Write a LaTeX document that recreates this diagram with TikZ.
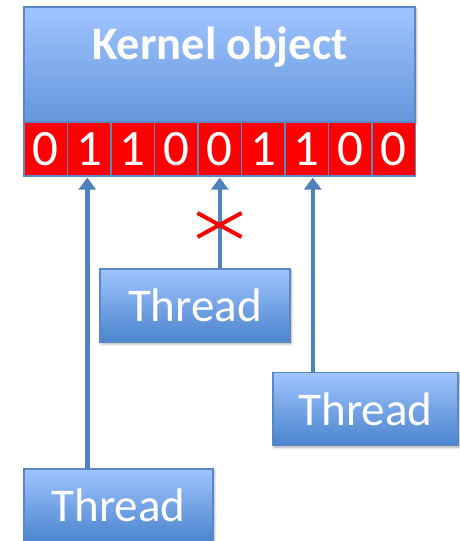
\documentclass[tikz,border=0pt]{standalone}
\usepackage{fontspec}
\setmainfont{Carlito}
\usetikzlibrary{shadows.blur,arrows.meta}
\definecolor{boxtop}{HTML}{A0C4FF}
\definecolor{boxbot}{HTML}{4A84CD}
\definecolor{kbot}{HTML}{6496DC}
\definecolor{edge}{HTML}{5A88C4}
\definecolor{link}{HTML}{4F81BD}
\definecolor{bitred}{HTML}{FF0000}
\tikzset{
  shade/.style={blur shadow={shadow xshift=1.2pt,shadow yshift=-1.8pt,shadow blur radius=2.5pt,shadow opacity=35}},
  kernelbox/.style={draw=edge,line width=1.2pt,top color=boxtop,bottom color=kbot,minimum width=391pt,minimum height=115pt,inner sep=0pt,shade},
  bitbox/.style={draw=edge,line width=1.3pt,fill=bitred,minimum width=43.5pt,minimum height=54pt,inner sep=0pt,text=white,font=\fontsize{51}{51}\selectfont},
  threadbox/.style={draw=edge,line width=1.2pt,top color=boxtop,bottom color=boxbot,minimum height=73pt,inner sep=0pt,text=white,font=\fontsize{47}{47}\selectfont,shade},
  arr/.style={draw=link,line width=4.5pt,-{Triangle[length=12pt,width=17pt]}},
  cross/.style={draw=bitred,line width=4pt}
}
\begin{document}
\begin{tikzpicture}[x=1pt,y=-1pt]
\useasboundingbox (0,0) rectangle (459,541);
% kernel object with its bit row
\node[kernelbox] (kernel) at (219.5,64.5) {};
\node[text=white,font=\bfseries\fontsize{46.5}{46.5}\selectfont,inner sep=0pt] (ktext) at (220,47) {Kernel object};
\foreach \b [count=\i from 0] in {0,1,1,0,0,1,1,0,0} {
  \node[bitbox] (bit\i) at ({24+43.5*(\i+0.5)},149) {\b};
}
% threads
\node[threadbox,minimum width=190pt] (t1) at (195,305.5) {Thread};
\node[threadbox,minimum width=185pt] (t2) at (365.5,409) {Thread};
\node[threadbox,minimum width=189pt] (t3) at (118.5,505.5) {Thread};
% requests towards the bits
\draw[arr] ([xshift=-2pt]bit1.south |- t3.north) -- ([xshift=-2pt,yshift=-1pt]bit1.south);
\draw[arr] (bit4.south |- t1.north) -- ([yshift=-1pt]bit4.south);
\draw[arr] ([xshift=6pt]bit6.south |- t2.north) -- ([xshift=6pt,yshift=-1pt]bit6.south);
% blocked request
\coordinate (xmark) at (219.5,225);
\draw[cross] ([xshift=-22pt,yshift=12pt]xmark) -- ([xshift=22pt,yshift=-12pt]xmark);
\draw[cross] ([xshift=-22pt,yshift=-12pt]xmark) -- ([xshift=22pt,yshift=12pt]xmark);
\end{tikzpicture}
\end{document}
